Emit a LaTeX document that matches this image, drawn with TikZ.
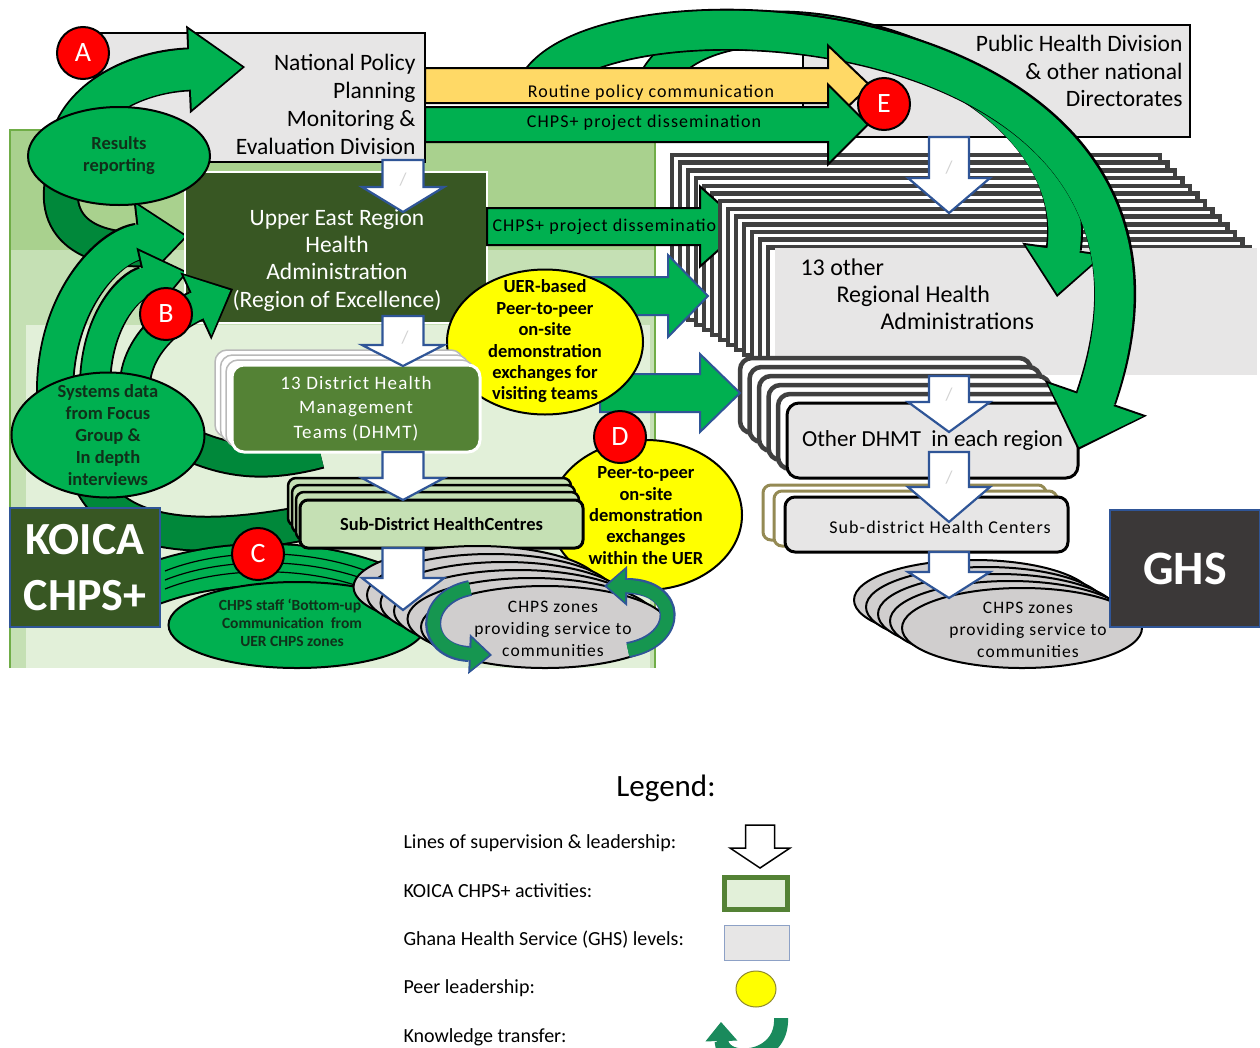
\documentclass[tikz,border=0pt]{standalone}
\usepackage{fontspec}
\setmainfont{Carlito}
\newfontfamily\widefont[LetterSpace=6]{Carlito}
\usetikzlibrary{shapes.geometric, arrows.meta, positioning}

\definecolor{boxgray}{RGB}{231,230,230}
\definecolor{chpsgray}{RGB}{208,206,206}
\definecolor{uergreen}{RGB}{56,87,35}
\definecolor{dhmtgreen}{RGB}{84,130,53}
\definecolor{subgreen}{RGB}{197,224,180}
\definecolor{bgA}{RGB}{169,209,142}
\definecolor{bgB}{RGB}{197,224,180}
\definecolor{bgC}{RGB}{226,240,217}
\definecolor{bgline}{RGB}{112,173,71}
\definecolor{kgreen}{RGB}{0,176,80}
\definecolor{kdark}{RGB}{0,136,58}
\definecolor{arrowblue}{RGB}{47,85,151}
\definecolor{routine}{RGB}{255,217,102}
\definecolor{peeryellow}{RGB}{255,255,0}
\definecolor{ghsgray}{RGB}{59,56,56}
\definecolor{stackgray}{RGB}{64,64,64}
\definecolor{khaki}{RGB}{148,138,84}
\definecolor{textgreen}{RGB}{16,48,26}
\definecolor{ktgreen}{RGB}{22,150,80}
\definecolor{legendgreen}{RGB}{26,138,92}

\newcommand{\fsz}[2]{\fontsize{#1}{#2}\selectfont}
% straight block arrows: start, head base, tip, centre, shaft half, head half, style
\newcommand{\rightblock}[7]{%
  \path[#7] (#1,#4-#5) -- (#2,#4-#5) -- (#2,#4-#6) -- (#3,#4) -- (#2,#4+#6) -- (#2,#4+#5) -- (#1,#4+#5) -- cycle;}
\newcommand{\downblock}[7]{%
  \path[#7] (#1-#5,#2) -- (#1+#5,#2) -- (#1+#5,#3) -- (#1+#6,#3) -- (#1,#4) -- (#1-#6,#3) -- (#1-#5,#3) -- cycle;}
% curved block arrows: path, band width, head length, head width, fill, border
\newcommand{\bandarrow}[6]{%
  \pgfmathsetmacro{\bandw}{#2+4}\pgfmathsetmacro{\headl}{#3+5}\pgfmathsetmacro{\headw}{#4+8}%
  \draw[draw=#6, line width=\bandw pt, -{Triangle[length=\headl pt, width=\headw pt, line width=0pt]}] #1;
  \draw[draw=#5, line width=#2pt, shorten >=3pt, -{Triangle[length=#3pt, width=#4pt, line width=0pt]}] #1;
  \draw[draw=#5, line width=#2pt, shorten >=#3pt] #1;}
\newcommand{\plainband}[3]{%
  \pgfmathsetmacro{\bandw}{#2+4}%
  \draw[black, line width=\bandw pt] #1;
  \draw[#3, line width=#2pt] #1;}

\tikzset{
  govbox/.style={draw=black, line width=2.5pt, fill=boxgray, inner sep=0pt},
  supstyle/.style={draw=arrowblue, line width=2.2pt, fill=white},
  stackline/.style={draw=stackgray, line width=4.5pt, fill=white},
  badge/.style={circle, draw=black, line width=2pt, fill=red, text=white, minimum size=52pt, inner sep=0pt, font=\fsz{28}{28}},
  peer/.style={ellipse, draw=black, line width=2pt, fill=peeryellow},
  koicaell/.style={ellipse, draw=black, line width=2pt, fill=kgreen},
  chpsell/.style={ellipse, draw=black, line width=2pt, fill=chpsgray},
  etxt/.style={align=center, font=\bfseries\fsz{18.5}{22}, text=textgreen},
  ptxt/.style={align=center, font=\bfseries\fsz{18.5}{21.4}},
  zonetxt/.style={align=center, font=\widefont\fsz{17.5}{22}},
  arrtxt/.style={font=\widefont\fsz{18}{20}},
  slashmark/.style={text=gray!35, font=\fsz{18}{18}},
  legtxt/.style={anchor=west, font=\fsz{20}{22}}
}

\begin{document}
\begin{tikzpicture}[x=1pt, y=-1pt]
  \useasboundingbox (0,0) rectangle (1260,1047);
  \fill[white] (0,0) rectangle (1260,1047);

  % KOICA CHPS+ area
  \fill[bgA] (10,130) rectangle (655,668);
  \fill[bgB] (10,250) rectangle (655,668);
  \fill[bgC] (26,325) rectangle (650,668);
  \draw[bgline, line width=2.5pt] (10,668) -- (10,130) -- (655,130) -- (655,668);

  % bands behind the boxes
  \plainband{(180,440) .. controls (230,465) and (270,465) .. (320,452)}{30}{kdark}
  \plainband{(90,480) .. controls (120,545) and (220,540) .. (310,522)}{32}{kdark}
  \plainband{(150,585) .. controls (220,558) and (320,556) .. (395,592)}{40}{kgreen}
  \foreach \o in {-9,0,9}
    \draw[black, line width=1.2pt] (165,580+\o) .. controls (225,556+\o) and (320,555+\o) .. (390,590+\o);
  \plainband{(65,170) .. controls (45,235) and (100,255) .. (160,248)}{32}{kdark}

  \node[draw=arrowblue, line width=2.5pt, fill=uergreen, minimum width=150pt, minimum height=119pt, inner sep=0pt,
        text=white, font=\bfseries\fsz{46}{56}, align=center] (koica) at (85,567.5) {KOICA\\CHPS+};

  % National level
  \node[govbox, minimum width=330pt, minimum height=129pt] (nppmed) at (260,97.5) {};
  \node[font=\fsz{23.5}{28}, align=right, anchor=east] (nppmedtxt) at (419,104)
    {National Policy\\Planning\\Monitoring \&\\Evaluation Division};

  \bandarrow{(70,150) .. controls (75,105) and (130,72) .. (245,67)}{40}{52}{80}{kgreen}{black}

  % Region of excellence
  \bandarrow{(55,392) .. controls (55,300) and (110,245) .. (188,236)}{34}{45}{75}{kgreen}{black}
  \bandarrow{(95,388) .. controls (95,320) and (130,285) .. (188,272)}{28}{40}{62}{kgreen}{black}

  \node[draw=white, line width=2.5pt, fill=uergreen, minimum width=302pt, minimum height=151pt] (uer) at (336,247.5) {};
  \node[font=\fsz{23.5}{27.3}, text=white, align=center] (uertxt) at (337,260)
    {Upper East Region\\Health\\Administration\\(Region of Excellence)};

  \bandarrow{(135,382) .. controls (138,345) and (170,318) .. (233,289)}{28}{36}{66}{kgreen}{black}

  \node[koicaell, minimum width=182pt, minimum height=98pt] (results) at (119,156) {};
  \node[etxt] (resultstxt) at (results) {Results\\reporting};
  \node[koicaell, minimum width=193pt, minimum height=125pt] (systems) at (108,435) {};
  \node[etxt] (systemstxt) at (systems) {Systems data\\from Focus\\Group \&\\In depth\\interviews};

  % Public Health Division
  \node[govbox, minimum width=387pt, minimum height=112pt] (phd) at (996.5,81) {};
  \node[font=\fsz{23.5}{27.5}, align=right, anchor=east] (phdtxt) at (1186,71)
    {Public Health Division\\\& other national\\Directorates};

  % 13 other regions (stacked)
  \foreach \i in {0,...,5}
    \draw[stackline] (672+8*\i,155+7.7*\i) rectangle (1160+7.5*\i,310+5*\i);
  \rightblock{487}{700}{745}{226.5}{18.5}{40}{draw=black, line width=2pt, fill=kgreen}
  \node[arrtxt, anchor=west] (disstxtmid) at (489,227) {CHPS+ project dissemination};
  \foreach \i in {6,...,12}
    \draw[stackline] (672+8*\i,155+7.7*\i) rectangle (1160+7.5*\i,310+5*\i);
  \node[fill=boxgray, minimum width=482pt, minimum height=127pt, inner sep=0pt] (other13) at (1016,311.5) {};
  \node[font=\fsz{24}{27}, align=left, anchor=west] (other13txt) at (797,294)
    {13 other\\\hspace*{36pt}Regional Health\\\hspace*{80pt}Administrations};

  % Other DHMT
  \foreach \i in {0,...,4}
    \draw[stackline, rounded corners=12pt] (740+9.5*\i,358+9*\i) rectangle ++(291,75);
  \node[govbox, line width=3pt, rounded corners=12pt, minimum width=291pt, minimum height=75pt,
        font=\fsz{23}{26}] (otherdhmt) at (932.5,440.5) {Other DHMT\ \ in each region};

  % Sub-district (other regions)
  \foreach \i in {0,1}
    \draw[draw=khaki, line width=3pt, fill=white, rounded corners=8pt] (763+11*\i,485+6*\i) rectangle ++(283,55);
  \node[govbox, line width=3pt, rounded corners=10pt, minimum width=283pt, minimum height=55pt] (subright) at (926.5,524.5) {};
  \node[arrtxt] (subrighttxt) at (940,527) {Sub-district Health Centers};

  % CHPS zones (other regions)
  \foreach \i in {4,3,2,1}
    \node[chpsell, minimum width=240pt, minimum height=80pt] (chpsr\i) at (1022-12*\i,628-7*\i) {};
  \node[chpsell, minimum width=240pt, minimum height=80pt] (chpsr) at (1022,628) {};
  \node[zonetxt] (chpsrtxt) at (1028,630) {CHPS zones\\providing service to\\communities};

  \node[draw=arrowblue, line width=2.5pt, fill=ghsgray, minimum width=150pt, minimum height=117pt,
        text=white, font=\bfseries\fsz{48}{48}] (ghs) at (1185,568.5) {GHS};

  % supervision (right)
  \downblock{949}{137}{178}{213}{20}{41}{supstyle}
  \downblock{949}{376}{402}{432}{20}{41}{supstyle}
  \downblock{949}{452}{487}{522}{20}{41}{supstyle}
  \downblock{949}{552}{572}{598}{20}{41}{supstyle}
  \node[slashmark] (sl5) at (949,168) {/};
  \node[slashmark] (sl6) at (949,395) {/};
  \node[slashmark] (sl7) at (949,478) {/};

  % national dissemination arcs
  \bandarrow{(655,82) .. controls (720,-40) and (1090,60) .. (1057,297)}{32}{44}{76}{kgreen}{black}
  \bandarrow{(541,82) .. controls (620,-25) and (1230,10) .. (1078,450)}{38}{50}{100}{kgreen}{black}

  % national arrows
  \rightblock{425}{828}{870}{85.5}{17.5}{40}{draw=black, line width=2pt, fill=routine}
  \rightblock{425}{828}{868}{124.5}{17.5}{40}{draw=black, line width=2pt, fill=kgreen}
  \node[arrtxt] (routinetxt) at (651,93) {Routine policy communication};
  \node[arrtxt] (disstxttop) at (644,123) {CHPS+ project dissemination};

  % region to region
  \rightblock{590}{668}{708}{296}{19}{41}{draw=arrowblue, line width=2pt, fill=kgreen}
  \rightblock{600}{700}{740}{393}{19}{39}{draw=arrowblue, line width=2pt, fill=kgreen}

  \node[peer, minimum width=196pt, minimum height=145pt] (uerpeer) at (545,342) {};
  \node[ptxt] (uerpeertxt) at (545,341.5)
    {UER-based\\Peer-to-peer\\on-site\\demonstration\\exchanges for\\visiting teams};

  % District level
  \foreach \i in {0,1,2}
    \draw[fill=white, draw=gray!55, line width=1.5pt, rounded corners=12pt] (215+5.5*\i,350+5*\i) rectangle ++(248,87);
  \node[draw=white, line width=3pt, fill=dhmtgreen, rounded corners=12pt, minimum width=248pt, minimum height=87pt,
        text=white, align=center, font=\widefont\fsz{19}{24.5}] (dhmt) at (356,408.5)
    {13 District Health\\Management\\Teams (DHMT)};

  \node[peer, minimum width=192pt, minimum height=150pt] (peerd) at (646,515) {};
  \node[ptxt] (peerdtxt) at (646,515.5) {Peer-to-peer\\on-site\\demonstration\\exchanges\\within the UER};

  \foreach \i in {0,1,2}
    \draw[fill=subgreen, draw=black, line width=2.5pt, rounded corners=8pt] (288+4*\i,478+7*\i) rectangle ++(283,48);
  \node[draw=black, line width=3pt, fill=subgreen, rounded corners=8pt, minimum width=283pt, minimum height=48pt,
        font=\bfseries\fsz{18.5}{20}] (subleft) at (441.5,524) {Sub-District HealthCentres};

  \node[koicaell, minimum width=257pt, minimum height=86pt] (bottomup) at (297,625) {};
  \node[align=center, font=\bfseries\fsz{15.5}{18}, text=textgreen] (bottomuptxt) at (292,623)
    {CHPS staff ‘Bottom-up’\\Communication\ \ from\\UER CHPS zones};

  \foreach \i in {5,4,3,2,1}
    \node[chpsell, minimum width=248pt, minimum height=82pt] (chpsl\i) at (545-13.5*\i,627-8*\i) {};
  \node[chpsell, minimum width=248pt, minimum height=82pt] (chpsl) at (545,627) {};
  \node[zonetxt] (chpsltxt) at (553,629) {CHPS zones\\providing service to\\communities};

  % supervision (left)
  \downblock{403}{160}{187}{212}{20.5}{41}{supstyle}
  \downblock{403}{316}{345}{366}{20.5}{41}{supstyle}
  \downblock{403}{452}{478}{500}{20.5}{41}{supstyle}
  \downblock{403}{548}{578}{610}{20.5}{41}{supstyle}
  \node[slashmark] (sl1) at (403,180) {/};
  \node[slashmark] (sl2) at (405,338) {/};

  % knowledge transfer
  \bandarrow{(470,588) .. controls (420,598) and (422,652) .. (492,655)}{12}{18}{32}{ktgreen}{arrowblue}
  \bandarrow{(628,650) .. controls (682,640) and (680,586) .. (604,586)}{12}{18}{32}{ktgreen}{arrowblue}

  % markers
  \node[badge] (ba) at (83,53) {A};
  \node[badge] (bb) at (166,314) {B};
  \node[badge] (bc) at (258,554) {C};
  \node[badge] (bd) at (620,437) {D};
  \node[badge] (be) at (884,104) {E};

  % Legend
  \node[font=\fsz{31}{34}] (legendtitle) at (666,788) {Legend:};
  \node[legtxt] (leg1) at (400,843) {Lines of supervision \& leadership:};
  \node[legtxt] (leg2) at (400,891) {KOICA CHPS+ activities:};
  \node[legtxt] (leg3) at (400,940) {Ghana Health Service (GHS) levels:};
  \node[legtxt] (leg4) at (400,988) {Peer leadership:};
  \node[legtxt] (leg5) at (400,1037) {Knowledge transfer:};
  \downblock{760}{825}{848}{868}{14.5}{30}{draw=black, line width=1.5pt, fill=white}
  \node[draw=dhmtgreen, line width=5pt, fill=bgC, minimum width=63pt, minimum height=32pt, inner sep=0pt] (legkoica) at (756,893.5) {};
  \node[draw=arrowblue!55, line width=1pt, fill=boxgray, minimum width=65pt, minimum height=35pt, inner sep=0pt] (legghs) at (756.5,942.5) {};
  \node[ellipse, draw=olive!70!gray, line width=1pt, fill=peeryellow, minimum width=40pt, minimum height=36pt] (legpeer) at (756,989) {};
  \bandarrow{(781,1018) .. controls (783,1062) and (722,1064) .. (721,1022)}{10}{14}{24}{legendgreen}{legendgreen}
\end{tikzpicture}
\end{document}
